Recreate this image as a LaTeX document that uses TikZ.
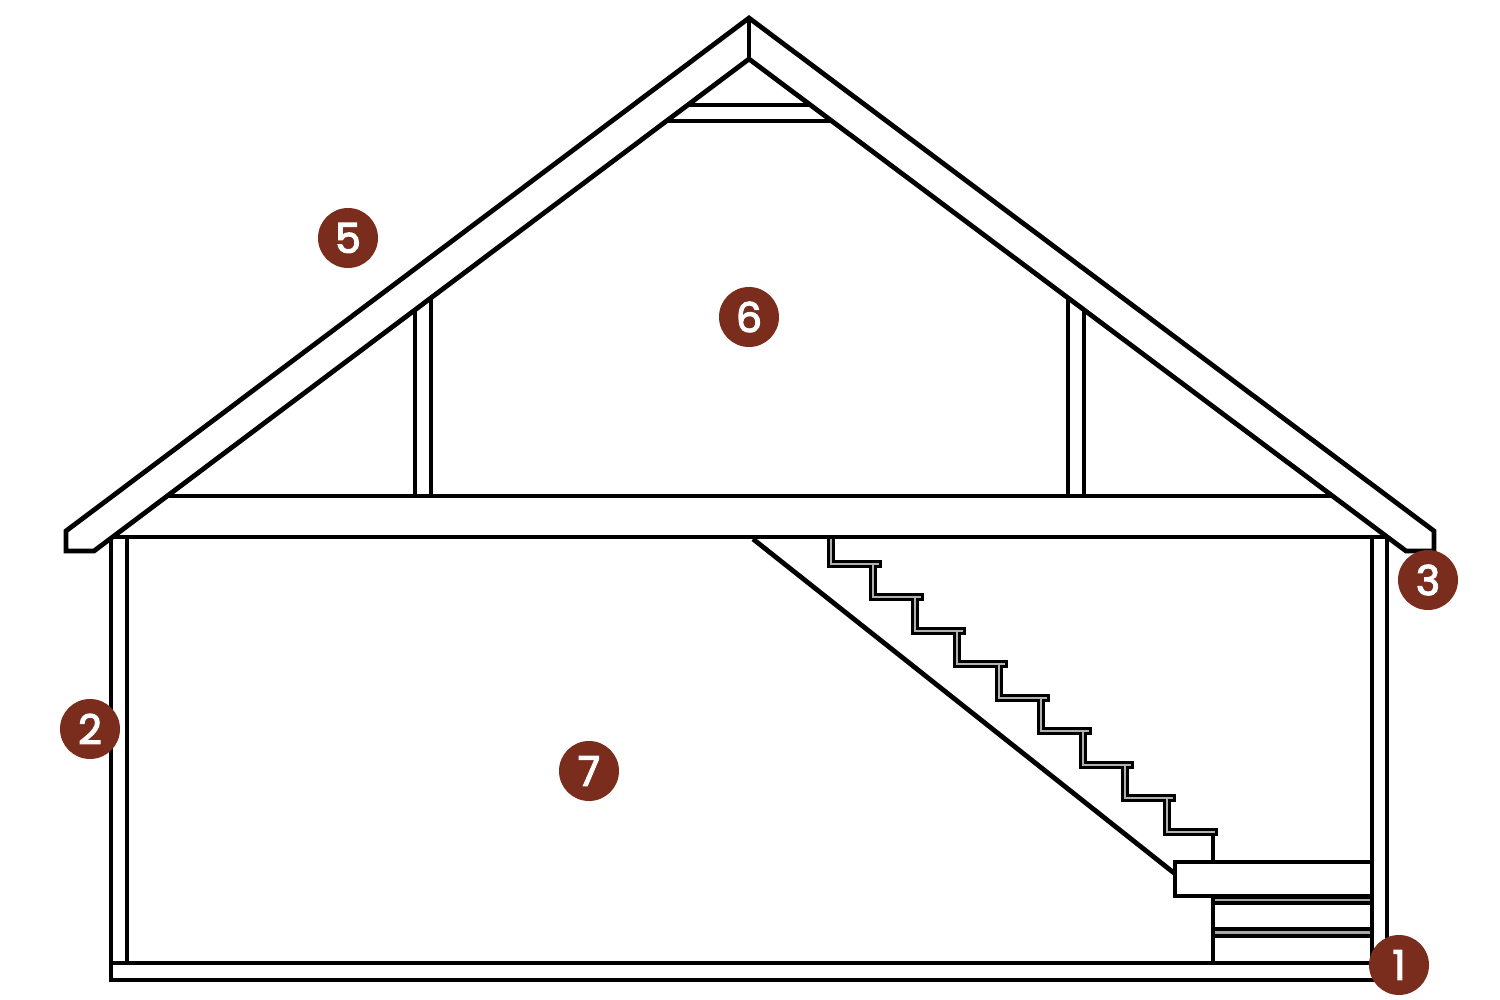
\documentclass[tikz,border=0pt]{standalone}
\usepackage{fontspec}
\setsansfont[FakeBold=3]{Poppins}
\usetikzlibrary{calc,positioning}
\definecolor{badgebrown}{HTML}{7A2D1C}
\tikzstyle{beam}=[
  draw=black,
  line width=4.8pt,
  line join=miter,
]
\tikzstyle{stairblack}=[
  draw=black,
  line width=8pt,
  line join=miter,
]
\tikzstyle{stairgrey}=[
  draw=black!30,
  line width=2pt,
  line join=miter,
]
\tikzstyle{strip}=[
  draw=black,
  fill=black!35,
  line width=3.6pt,
]
\tikzstyle{badge}=[
  circle,
  fill=badgebrown,
  text=white,
  inner sep=0pt,
  minimum size=60pt,
  font={\fontsize{41}{41}\sffamily},
]
\tikzset{
  x=1pt,
  y=-1pt,
}
\begin{document}
\begin{tikzpicture}
      \useasboundingbox (0,0) rectangle (1500,1000);
      %%
      \coordinate (apex) at (749,18);
      \coordinate (apexin) at (749,59);
      \coordinate (eaveL) at (66,531);
      \coordinate (eaveLb) at (66,551);
      \coordinate (eaveLc) at (94,551);
      \coordinate (eaveR) at (1434,531);
      \coordinate (eaveRb) at (1434,551);
      \coordinate (eaveRc) at (1406,551);
      %% roof
      \draw [beam] (eaveLc) -- (eaveLb) -- (eaveL) -- (apex) -- (eaveR)
      -- (eaveRb) -- (eaveRc) -- (apexin) -- cycle;
      \draw [beam] (apex) -- (apexin);
      %% collar
      \draw [beam] (687,105) -- (812,105);
      \draw [beam] (667,121) -- (830,121);
      %% ceiling beam
      \draw [beam] (168,496) -- (1332,496);
      \draw [beam] (111,537) -- (1387,537);
      %% attic studs
      \draw [beam] (415,309) -- (415,496);
      \draw [beam] (431,297) -- (431,496);
      \draw [beam] (1068,298) -- (1068,496);
      \draw [beam] (1084,310) -- (1084,496);
      %% walls and floor
      \draw [beam] (127,537) -- (127,963);
      \draw [beam] (1372,537) -- (1372,963);
      \draw [beam] (1387,537) -- (1387,965);
      \draw [beam] (111,537) -- (111,980) -- (1400,980);
      \draw [beam] (111,963) -- (1400,963);
      %% stairs
      \draw [stairblack] (831,539) -- (831,563.5)
      \foreach \i in {1,...,8} {
        -- ++(42,0) -- ++(0,33.5)
      }
      -- ++(51,0);
      \foreach \i in {0,...,7} {
        \draw [stairblack] ($(831,563.5)+(\i*42,\i*33.5)$) -- ++(51,0);
      }
      \draw [stairgrey] (831,539) -- (831,563.5)
      \foreach \i in {1,...,8} {
        -- ++(42,0) -- ++(0,33.5)
      }
      -- ++(48,0);
      \foreach \i in {0,...,7} {
        \draw [stairgrey] ($(831,563.5)+(\i*42,\i*33.5)$) -- ++(48,0);
      }
      %% stringer, landing and lower steps
      \draw [beam] (753,539) -- (1174,873);
      \draw [beam] (1213,836) -- (1213,862);
      \draw [beam, fill=white] (1175,862) rectangle (1372,896);
      \draw [beam] (1213,896) -- (1213,963);
      \draw [strip] (1213,897) rectangle (1372,903);
      \draw [strip] (1213,929) rectangle (1372,936);
      %% badges
      \node (one) [badge] at (1399,965) {1};
      \node (two) [badge] at (90,729) {2};
      \node (three) [badge] at (1428,580) {3};
      \node (five) [badge] at (348,238) {5};
      \node (six) [badge] at (749,317) {6};
      \node (seven) [badge] at (589,771) {7};
    \end{tikzpicture}
\end{document}
